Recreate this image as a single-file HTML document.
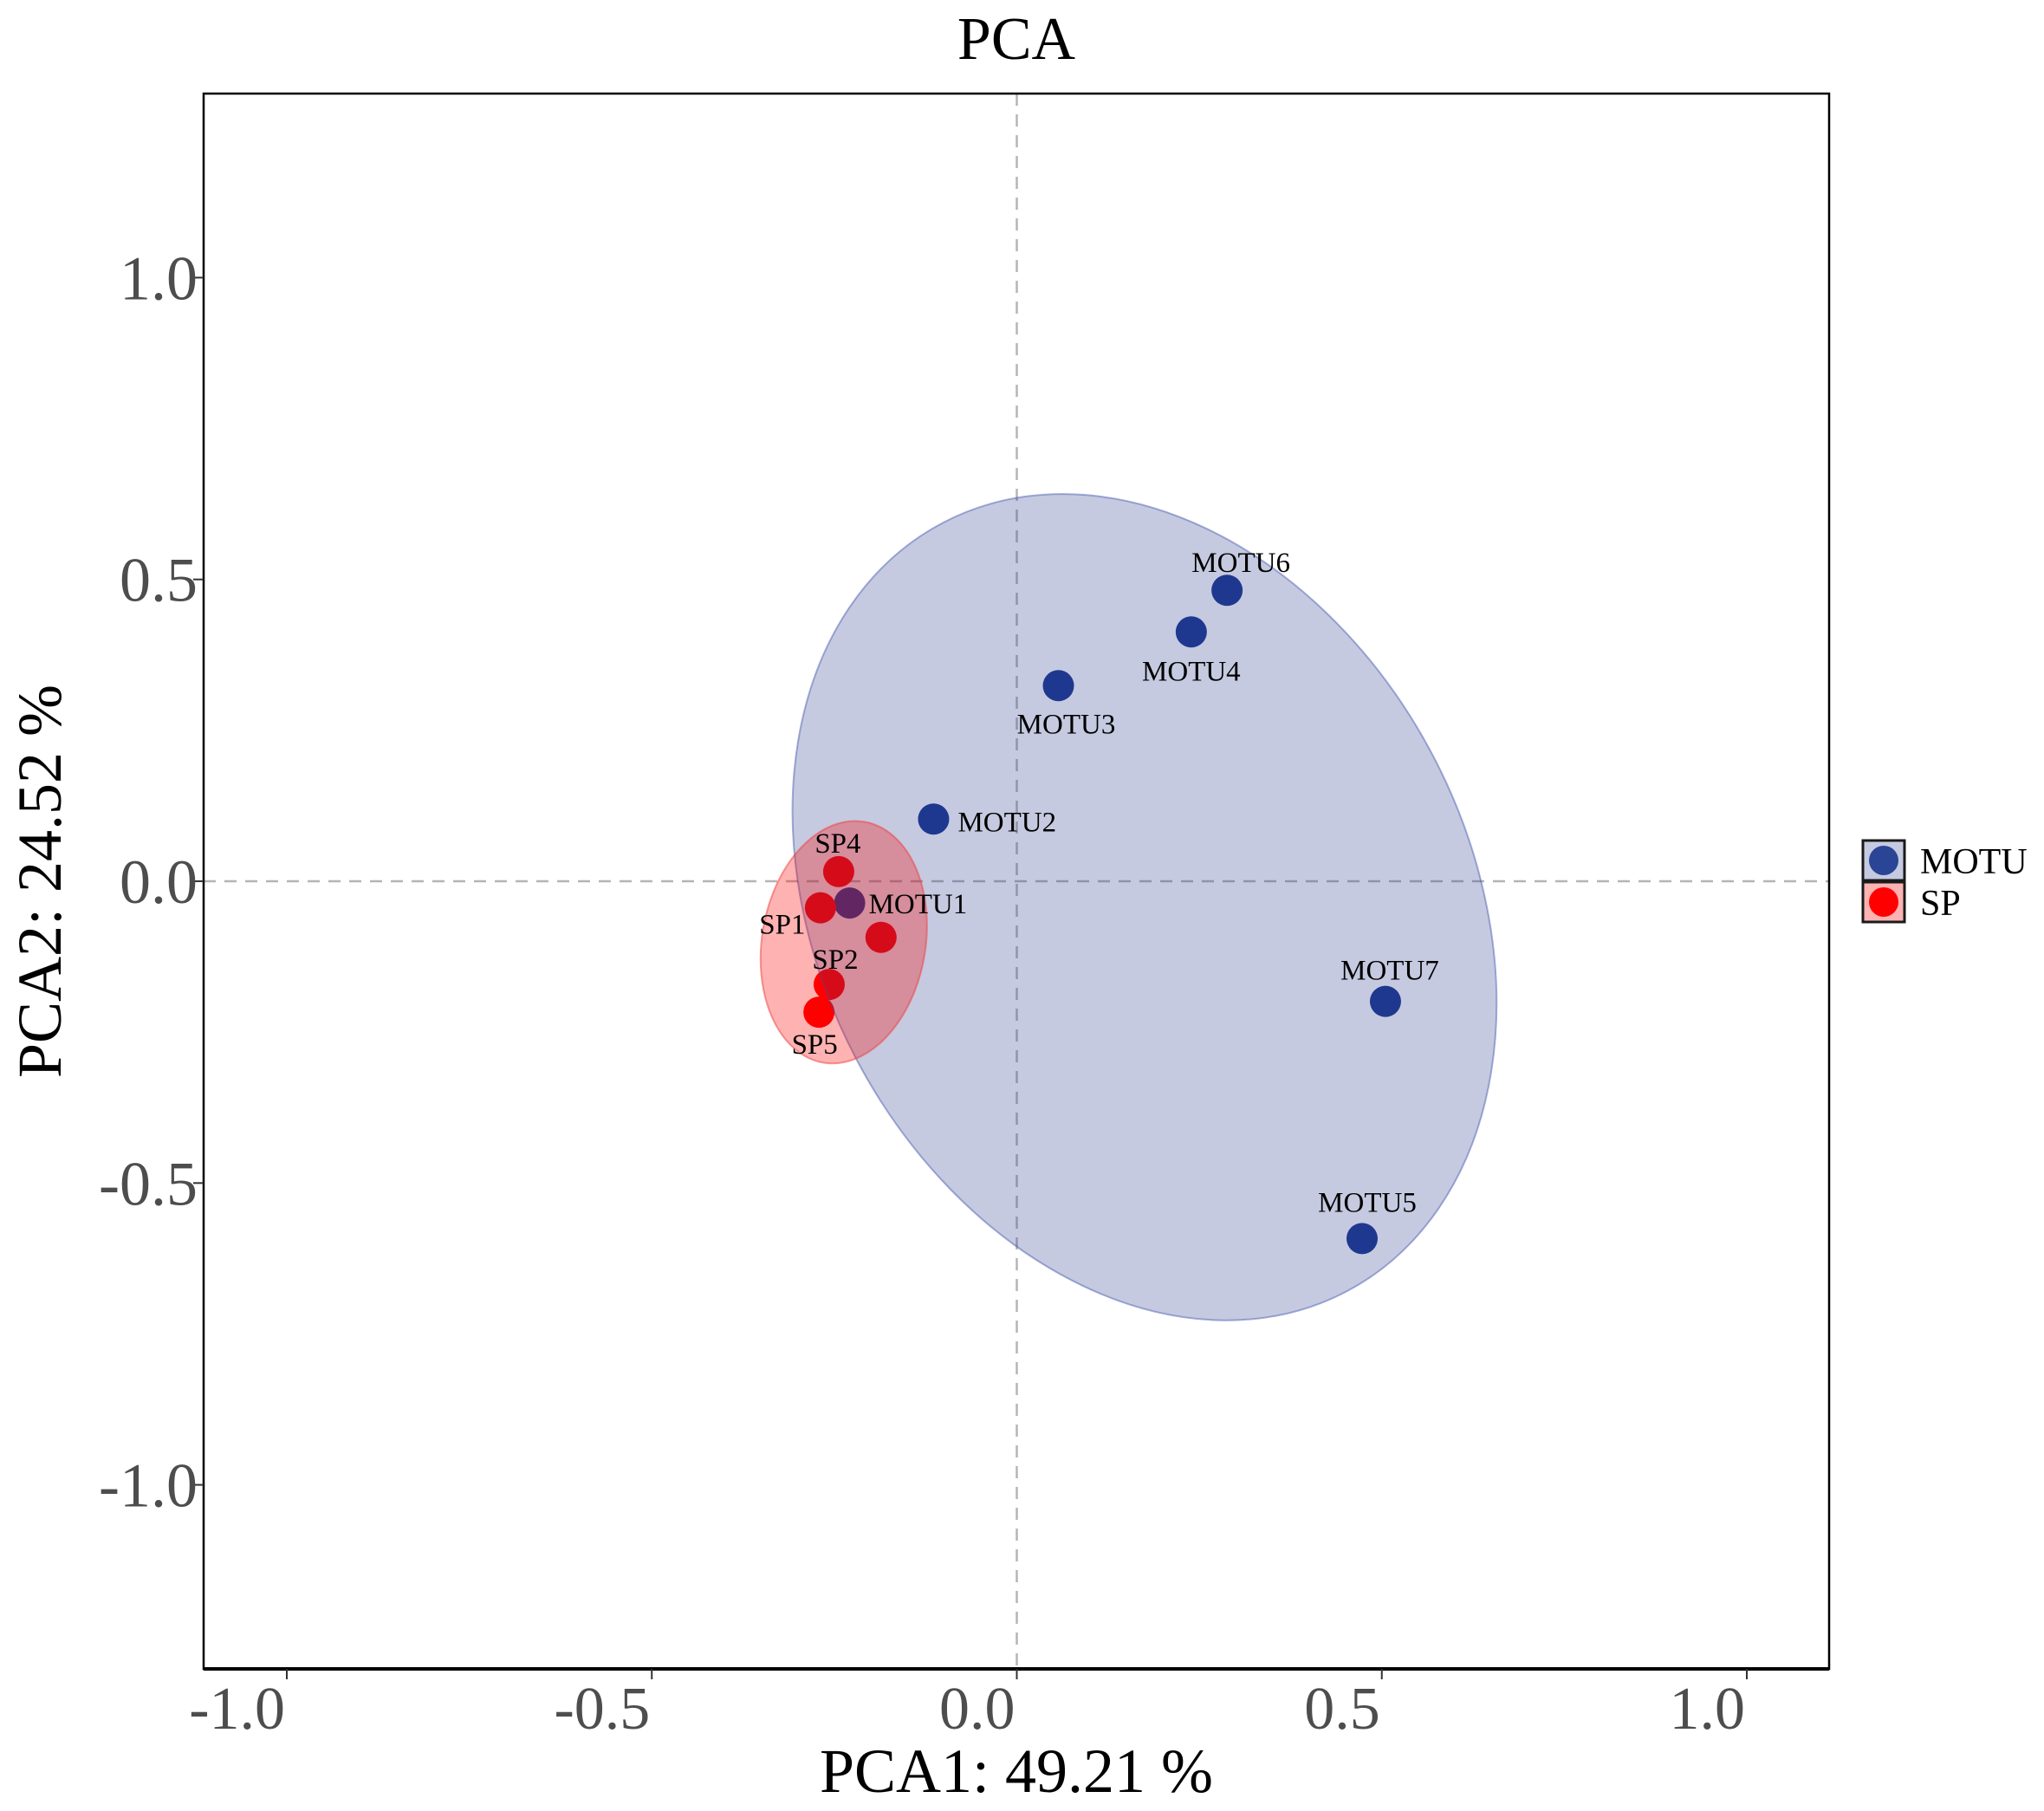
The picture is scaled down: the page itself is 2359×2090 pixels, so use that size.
<!DOCTYPE html>
<html><head><meta charset="utf-8">
<style>
html,body{margin:0;padding:0;background:#fff;}
svg{display:block;font-family:"Liberation Serif",serif;}
</style></head>
<body>
<svg id="chart" width="2359" height="2090" viewBox="0 0 2359 2090" xmlns="http://www.w3.org/2000/svg">
<text x="1173" y="68" font-size="70" text-anchor="middle" fill="#000">PCA</text>
<g id="panel"></g>
<text x="1173" y="2068" font-size="72" text-anchor="middle" fill="#000">PCA1: 49.21 %</text>
<text transform="translate(70,1017) rotate(-90)" font-size="72" text-anchor="middle" fill="#000">PCA2: 24.52 %</text>
<g>
  <rect x="2150" y="970" width="48" height="46" fill="rgba(40,60,140,0.27)" stroke="#1a1a1a" stroke-width="3"/>
  <circle cx="2174" cy="993" r="17" fill="#2a4595"/>
  <text x="2216" y="1008" font-size="42" fill="#000">MOTU</text>
  <rect x="2150" y="1018" width="48" height="46" fill="rgba(255,0,0,0.3)" stroke="#1a1a1a" stroke-width="3"/>
  <circle cx="2174" cy="1041" r="17" fill="#ff0000"/>
  <text x="2216" y="1056" font-size="42" fill="#000">SP</text>
</g>
</svg>
<script>
const sampleNames = ["MOTU1","MOTU2","MOTU3","MOTU4","MOTU5","MOTU6","MOTU7","SP1","SP2","SP3","SP4","SP5"];
const sampleGroups = ["MOTU","MOTU","MOTU","MOTU","MOTU","MOTU","MOTU","SP","SP","SP","SP","SP"];
const pc1Values = [-0.229,-0.114,0.057,0.239,0.473,0.288,0.505,-0.269,-0.257,-0.186,-0.244,-0.271];
const pc2Values = [-0.036,0.103,0.324,0.413,-0.592,0.482,-0.199,-0.044,-0.171,-0.093,0.016,-0.217];
const showLabel = [true,true,true,true,true,true,true,true,true,false,true,true];
const xTicks = [-1.0,-0.5,0.0,0.5,1.0];
const yTicks = [-1.0,-0.5,0.0,0.5,1.0];
const tickLabels = ["-1.0","-0.5","0.0","0.5","1.0"];
const ellipseGroups = ["MOTU","SP"];
const ellipseCx = [0.175,-0.237];
const ellipseCy = [-0.043,-0.101];

const L=235,R=2111,T=108,B=1926;
const X=v=>1173.5+v*842.5;
const Y=v=>1017-v*696.6;
const NS="http://www.w3.org/2000/svg";
const panel=document.getElementById('panel');
function mk(tag,attrs,parent){const e=document.createElementNS(NS,tag);for(const k in attrs)e.setAttribute(k,attrs[k]);(parent||panel).appendChild(e);return e;}

let h=mk('line',{x1:L,x2:R,y1:Y(0),y2:Y(0),stroke:'#b5b5b5','stroke-width':2.5,'stroke-dasharray':'14 10'});


let v=mk('line',{x1:X(0),x2:X(0),y1:T,y2:B,stroke:'#b5b5b5','stroke-width':2.5,'stroke-dasharray':'14 10'});



const layout={
 MOTU1:[22,1,'start'],MOTU2:[28,3,'start'],MOTU3:[9,44,'middle'],MOTU4:[0,45,'middle'],
 MOTU5:[6,-42,'middle'],MOTU6:[16,-32,'middle'],MOTU7:[5,-36,'middle'],
 SP1:[-44,19,'middle'],SP2:[7,-29,'middle'],SP4:[-1,-33,'middle'],SP5:[-5,37,'middle']};
for(let i=0;i<sampleNames.length;i++){
  const c=mk('circle',{cx:X(pc1Values[i]),cy:Y(pc2Values[i]),r:18,fill:sampleGroups[i]==='MOTU'?'#1c3791':'#ff0000'});
  
  
}
const ellStyle=[{rx:501,ry:376,rot:62.3,fill:'rgba(40,60,140,0.27)',stroke:'rgba(60,80,170,0.45)'},
                {rx:141,ry:94.4,rot:-80.3,fill:'rgba(255,0,0,0.3)',stroke:'rgba(240,60,60,0.5)'}];
for(let j=0;j<ellipseGroups.length;j++){
  const s=ellStyle[j],cx=X(ellipseCx[j]),cy=Y(ellipseCy[j]);
  const e=mk('ellipse',{cx:cx,cy:cy,rx:s.rx,ry:s.ry,transform:`rotate(${s.rot} ${cx} ${cy})`,fill:s.fill,stroke:s.stroke,'stroke-width':2});
  
  
}
for(let i=0;i<sampleNames.length;i++){
  if(!showLabel[i])continue;
  const o=layout[sampleNames[i]];
  const t=mk('text',{x:X(pc1Values[i])+o[0],y:Y(pc2Values[i])+o[1]+11,'font-size':33,'text-anchor':o[2],fill:'#000'});
  t.textContent=sampleNames[i];
  
  
}
let bd=mk('rect',{x:L,y:T,width:R-L,height:B-T,fill:'none',stroke:'#000','stroke-width':2.5});


let bx=mk('line',{x1:L,x2:R,y1:B,y2:B,stroke:'#000','stroke-width':4});


for(let i=0;i<xTicks.length;i++){
  const tk=mk('line',{x1:X(xTicks[i]),x2:X(xTicks[i]),y1:B,y2:B+12,stroke:'#333','stroke-width':2});
  
  
  const tl=mk('text',{x:X(xTicks[i])-2,y:1995,'font-size':70,'text-anchor':'end',fill:'#4d4d4d'});
  tl.textContent=tickLabels[i];
  
  
}
for(let i=0;i<yTicks.length;i++){
  const tk=mk('line',{x1:L-12,x2:L,y1:Y(yTicks[i]),y2:Y(yTicks[i]),stroke:'#333','stroke-width':2});
  
  
  const tl=mk('text',{x:228,y:Y(yTicks[i])+25,'font-size':72,'text-anchor':'end',fill:'#4d4d4d'});
  tl.textContent=tickLabels[i];
  
  
}
</script>
</body></html>
